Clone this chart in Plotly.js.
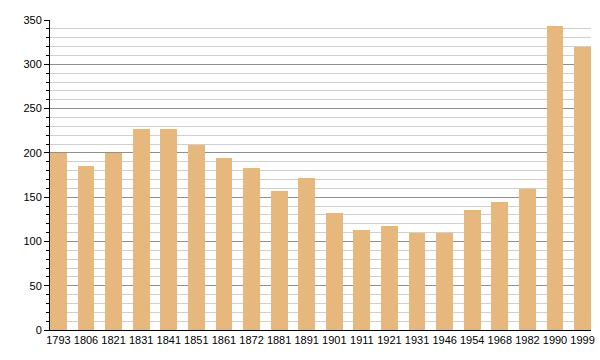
<!DOCTYPE html>
<html>
<head>
<meta charset="utf-8">
<script src="https://cdn.plot.ly/plotly-3.0.1.min.js"></script>
<style>html,body{margin:0;padding:0;background:#fff;}#chart{width:600px;height:360px;}</style>
</head>
<body>
<div id="chart"></div>
<script>
const years = ["1793","1806","1821","1831","1841","1851","1861","1872","1881","1891","1901","1911","1921","1931","1946","1954","1968","1982","1990","1999"];
const population = [200,185,200,227,227,209,194,183,157,172,132,113,117,109,110,136,144,159,343,319];
const yTicks = [0,50,100,150,200,250,300,350];

const positions = years.map((_, i) => i);
const barWidth = 0.61;

Plotly.newPlot('chart', [{
  type: 'bar',
  x: positions,
  y: population,
  width: barWidth,
  marker: {color: '#e6b87d', line: {width: 0}},
  hoverinfo: 'skip'
}], {
  width: 600, height: 360,
  margin: {l: 50, r: 9, t: 20, b: 30},
  paper_bgcolor: '#fff', plot_bgcolor: '#fff',
  showlegend: false,
  bargap: 0,
  font: {family: 'Liberation Sans, Arial, sans-serif', size: 11, color: '#000'},
  xaxis: {
    range: [-barWidth/2, positions.length - 1 + barWidth/2],
    tickmode: 'array', tickvals: positions, ticktext: years,
    showline: true, linecolor: '#000', linewidth: 1,
    ticks: '', showgrid: false, zeroline: false,
    tickfont: {size: 11}, ticklabelstandoff: 0
  },
  yaxis: {
    range: [0, 350],
    tickmode: 'array', tickvals: yTicks,
    showline: true, linecolor: '#000', linewidth: 1,
    ticks: 'outside', ticklen: 5, tickcolor: '#000',
    showgrid: true, gridcolor: '#8f8f8f', gridwidth: 1,
    zeroline: false,
    minor: {dtick: 10, showgrid: true, gridcolor: '#cfcfcf', gridwidth: 1, ticks: 'outside', ticklen: 3, tickcolor: '#000'},
    tickfont: {size: 11}
  }
}, {displayModeBar: false, staticPlot: true});
</script>
</body>
</html>
